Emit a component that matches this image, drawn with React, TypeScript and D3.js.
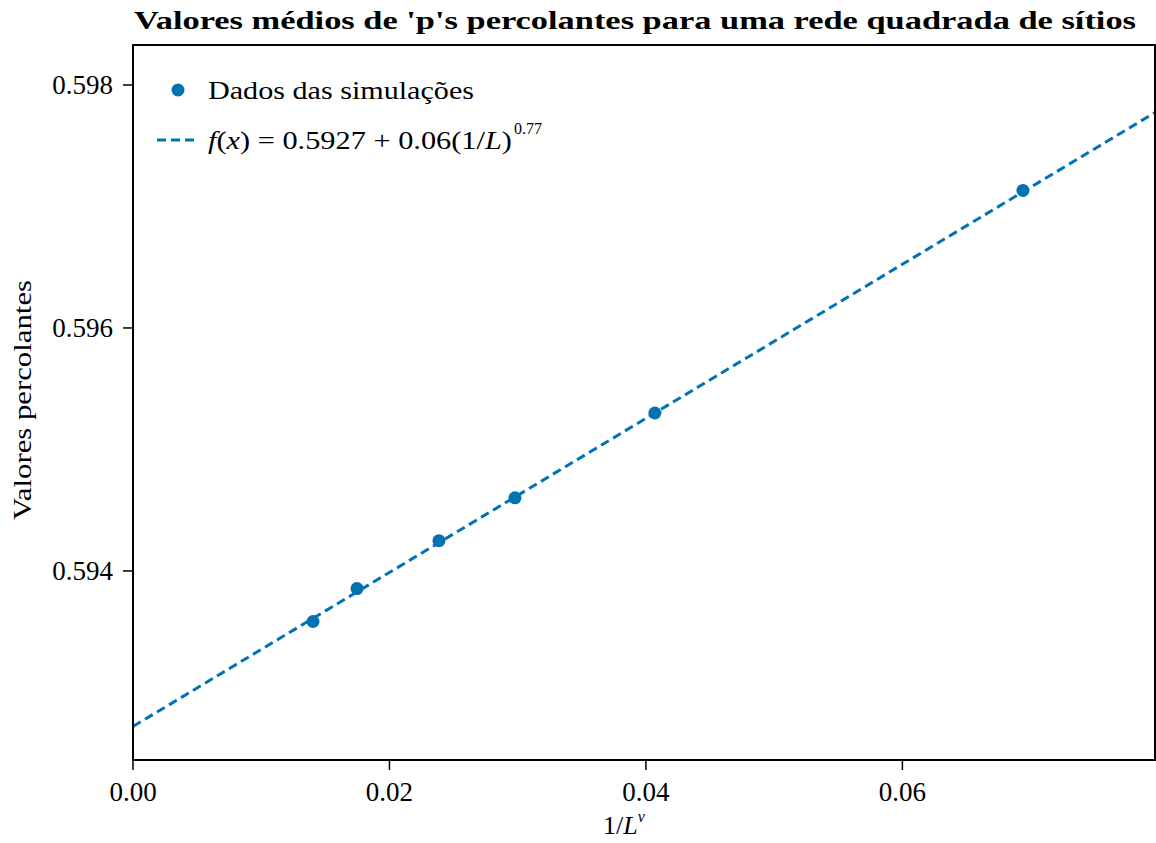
import React from "react";
import * as d3 from "d3";

// simulation data: x = 1/L^nu, y = mean percolating p
const xValues = [0.01404, 0.01747, 0.02386, 0.02979, 0.0407, 0.0694];
const yValues = [0.593584, 0.593855, 0.594249, 0.594602, 0.5953, 0.597132];

// fitted line at both ends
const fitX = [0, 0.0797];
const fitY = [0.59272, 0.597773];

const xTicks = [0, 0.02, 0.04, 0.06];
const yTicks = [0.594, 0.596, 0.598];

const BLUE = "#0173b2";
const FONT = "'Liberation Serif', 'DejaVu Serif', serif";

export default function App() {
  const width = 1156;
  const height = 843;
  const left = 133, right = 1155, top = 45, bottom = 760;

  const xScale = d3.scaleLinear().domain([0, 0.0797]).range([left, right]);
  const yScale = d3.scaleLinear().domain([0.592444, 0.598329]).range([bottom, top]);

  const fitData = fitX.map((x, i) => [x, fitY[i]] as [number, number]);
  const line = d3.line<[number, number]>()
    .x(d => xScale(d[0]))
    .y(d => yScale(d[1]));

  return (
    <div style={{ position: "absolute", left: 0, top: 0 }}>
      <svg width={width} height={height} style={{ display: "block", background: "#fff" }} fontFamily={FONT}>
        {/* title */}
        <text x={635} y={29} textAnchor="middle" fontSize={26} fontWeight="bold"
          textLength={1002} lengthAdjust="spacingAndGlyphs">
          Valores médios de 'p's percolantes para uma rede quadrada de sítios
        </text>

        <clipPath id="plot">
          <rect x={left} y={top} width={right - left} height={bottom - top} />
        </clipPath>

        {/* fit line */}
        <path d={line(fitData) || ""} fill="none" stroke={BLUE} strokeWidth={3}
          strokeDasharray="9,5" clipPath="url(#plot)" />

        {/* points */}
        {xValues.map((x, i) => (
          <circle key={i} cx={xScale(x)} cy={yScale(yValues[i])} r={6.5} fill={BLUE} />
        ))}

        {/* frame */}
        <rect x={left} y={top} width={right - left} height={bottom - top}
          fill="none" stroke="#000" strokeWidth={2} />

        {/* x ticks */}
        {xTicks.map(t => (
          <g key={t}>
            <line x1={xScale(t)} x2={xScale(t)} y1={bottom} y2={bottom + 10} stroke="#000" strokeWidth={1.5} />
            <text x={xScale(t)} y={bottom + 41} textAnchor="middle" fontSize={27}>{d3.format(".2f")(t)}</text>
          </g>
        ))}

        {/* y ticks */}
        {yTicks.map(t => (
          <g key={t}>
            <line x1={left - 10} x2={left} y1={yScale(t)} y2={yScale(t)} stroke="#000" strokeWidth={1.5} />
            <text x={left - 20} y={yScale(t) + 9} textAnchor="end" fontSize={27}>{d3.format(".3f")(t)}</text>
          </g>
        ))}

        {/* axis labels */}
        <text x={624} y={834} textAnchor="middle" fontSize={26}>
          1/<tspan fontStyle="italic">L</tspan>
          <tspan fontStyle="italic" fontSize={16} dy={-12}>ν</tspan>
        </text>
        <text transform="translate(31,400) rotate(-90)" textAnchor="middle" fontSize={26}
          textLength={240} lengthAdjust="spacingAndGlyphs">
          Valores percolantes
        </text>

        {/* legend */}
        <circle cx={178} cy={90} r={6.5} fill={BLUE} />
        <text x={208} y={99} fontSize={26} textLength={266} lengthAdjust="spacingAndGlyphs">
          Dados das simulações
        </text>
        <line x1={157} x2={198} y1={140} y2={140} stroke={BLUE} strokeWidth={3} strokeDasharray="9,5" />
        <text x={208} y={149} fontSize={26} textLength={304} lengthAdjust="spacingAndGlyphs">
          <tspan fontStyle="italic">f</tspan>(<tspan fontStyle="italic">x</tspan>) = 0.5927 + 0.06(1/<tspan fontStyle="italic">L</tspan>)
        </text>
        <text x={514} y={134} fontSize={16}>0.77</text>
      </svg>
    </div>
  );
}
